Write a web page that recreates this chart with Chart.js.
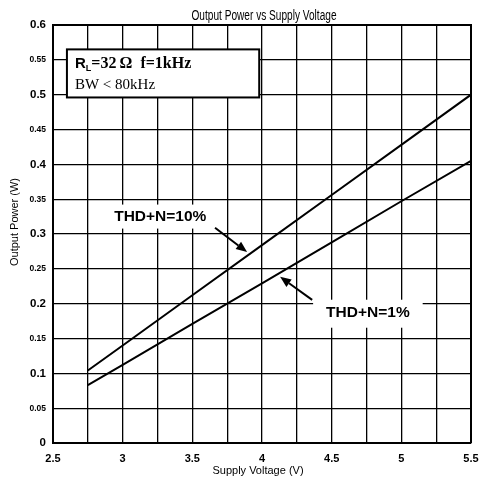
<!DOCTYPE html>
<html>
<head>
<meta charset="utf-8">
<script src="https://cdn.jsdelivr.net/npm/chart.js@4.4.0/dist/chart.umd.min.js"></script>
<style>
  html, body { margin: 0; padding: 0; background: #fff; }
  #wrap { width: 479px; height: 481px; position: relative; }
</style>
</head>
<body>
<div id="wrap"><canvas id="c" width="479" height="481"></canvas></div>
<script>
// ---- data ----
const voltages = [2.75, 3.0, 3.5, 4.0, 4.5, 5.0, 5.5];
const thd10 = [0.104, 0.140, 0.212, 0.284, 0.356, 0.428, 0.500];
const thd1  = [0.083, 0.112, 0.171, 0.229, 0.288, 0.347, 0.405];
const seriesNames = ['THD+N=10%', 'THD+N=1%'];
const xTickLabels = ['2.5', '3', '3.5', '4', '4.5', '5', '5.5'];
const yTickLabels = ['0', '0.05', '0.1', '0.15', '0.2', '0.25', '0.3', '0.35', '0.4', '0.45', '0.5', '0.55', '0.6'];
const titleText = 'Output Power vs Supply Voltage';
const xTitle = 'Supply Voltage (V)';
const yTitle = 'Output Power (W)';
const conditions = ['R', 'L', '=32\u2009\u03A9  f=1kHz', 'BW < 80kHz'];

const SANS = "'Liberation Sans', Arial, Helvetica, sans-serif";
const NARROW = "'Liberation Sans Narrow', 'Arial Narrow', 'Liberation Sans', sans-serif";
const SERIF = "'Liberation Serif', 'Times New Roman', serif";

function arrow(ctx, x1, y1, x2, y2) {
  ctx.save();
  ctx.strokeStyle = '#000'; ctx.fillStyle = '#000'; ctx.lineWidth = 2;
  const ang = Math.atan2(y2 - y1, x2 - x1);
  const hl = 11, hw = 4.5;
  const bx = x2 - hl * Math.cos(ang), by = y2 - hl * Math.sin(ang);
  ctx.beginPath(); ctx.moveTo(x1, y1); ctx.lineTo(bx, by); ctx.stroke();
  ctx.beginPath();
  ctx.moveTo(x2, y2);
  ctx.lineTo(bx + hw * Math.sin(ang), by - hw * Math.cos(ang));
  ctx.lineTo(bx - hw * Math.sin(ang), by + hw * Math.cos(ang));
  ctx.closePath(); ctx.fill();
  ctx.restore();
}

const deco = {
  id: 'deco',
  afterDraw(chart) {
    const ctx = chart.ctx;
    const xs = chart.scales.x, ys = chart.scales.y;
    ctx.save();
    // title (condensed)
    ctx.font = '14px ' + NARROW;
    ctx.fillStyle = '#000';
    ctx.textBaseline = 'middle';
    const tw = ctx.measureText(titleText).width;
    const target = 145;
    ctx.save();
    ctx.translate(264, 16);
    ctx.scale(target / tw, 1);
    ctx.textAlign = 'center';
    ctx.fillText(titleText, 0, 0);
    ctx.restore();

    // axis titles
    ctx.font = '11px ' + SANS;
    ctx.textAlign = 'center';
    ctx.fillText(xTitle, 258, 471);
    ctx.save();
    ctx.translate(15, 222);
    ctx.rotate(-Math.PI / 2);
    ctx.fillText(yTitle, 0, 0);
    ctx.restore();

    // condition box
    const bx1 = xs.getPixelForValue(2.6), bx2 = xs.getPixelForValue(3.98);
    const by1 = ys.getPixelForValue(0.565), by2 = ys.getPixelForValue(0.496);
    ctx.fillStyle = '#fff';
    ctx.fillRect(bx1, by1, bx2 - bx1, by2 - by1);
    ctx.strokeStyle = '#000'; ctx.lineWidth = 2;
    ctx.strokeRect(bx1, by1, bx2 - bx1, by2 - by1);
    ctx.fillStyle = '#000';
    ctx.textAlign = 'left';
    ctx.textBaseline = 'alphabetic';
    let tx = bx1 + 8;
    ctx.font = 'bold 15px ' + SANS;
    ctx.fillText(conditions[0], tx, by1 + 19);
    tx += ctx.measureText(conditions[0]).width;
    ctx.font = 'bold 9px ' + SANS;
    ctx.fillText(conditions[1], tx, by1 + 22);
    tx += ctx.measureText(conditions[1]).width;
    ctx.font = 'bold 16px ' + SERIF;
    ctx.fillText(conditions[2], tx, by1 + 19);
    ctx.font = '15px ' + SERIF;
    ctx.fillText(conditions[3], bx1 + 8, by1 + 40);

    // series labels with white background
    ctx.font = 'bold 15.5px ' + SANS;
    ctx.textBaseline = 'middle';
    ctx.textAlign = 'center';
    const l1x = xs.getPixelForValue(3.27), l1y = ys.getPixelForValue(0.325);
    const w1 = ctx.measureText(seriesNames[0]).width;
    ctx.fillStyle = '#fff';
    ctx.fillRect(l1x - w1 / 2 - 10, l1y - 12, w1 + 20, 24);
    ctx.fillStyle = '#000';
    ctx.fillText(seriesNames[0], l1x, l1y);

    const l2x = xs.getPixelForValue(4.76), l2y = ys.getPixelForValue(0.187);
    const w2 = ctx.measureText(seriesNames[1]).width;
    ctx.fillStyle = '#fff';
    ctx.fillRect(l2x - w2 / 2 - 13, l2y - 13, w2 + 26, 28);
    ctx.fillStyle = '#000';
    ctx.fillText(seriesNames[1], l2x, l2y);

    // arrows
    arrow(ctx, xs.getPixelForValue(3.663), ys.getPixelForValue(0.309),
               xs.getPixelForValue(3.893), ys.getPixelForValue(0.274));
    arrow(ctx, xs.getPixelForValue(4.36), ys.getPixelForValue(0.2055),
               xs.getPixelForValue(4.13), ys.getPixelForValue(0.2385));
    ctx.restore();
  }
};

new Chart(document.getElementById('c'), {
  type: 'line',
  data: {
    datasets: [
      { label: seriesNames[0], data: voltages.map((v, i) => ({ x: v, y: thd10[i] })),
        borderColor: '#000', borderWidth: 2, pointRadius: 0, tension: 0 },
      { label: seriesNames[1], data: voltages.map((v, i) => ({ x: v, y: thd1[i] })),
        borderColor: '#000', borderWidth: 2, pointRadius: 0, tension: 0 }
    ]
  },
  options: {
    responsive: false,
    animation: false,
    events: [],
    layout: { padding: { left: 0, right: 8, top: 25, bottom: 0 } },
    plugins: { legend: { display: false }, title: { display: false }, tooltip: { enabled: false } },
    scales: {
      x: {
        type: 'linear', min: 2.5, max: 5.5,
        afterFit(s) { s.height = 38; s.paddingLeft = 0; s.paddingRight = 0; },
        afterBuildTicks(s) {
          s.ticks = [];
          for (let i = 0; i <= 12; i++) s.ticks.push({ value: 2.5 + i * 0.25 });
        },
        grid: { color: '#000', lineWidth: 1.3, drawTicks: false },
        border: { color: '#000', width: 2 },
        ticks: {
          padding: 9, color: '#000', autoSkip: false, maxRotation: 0,
          font: { family: SANS, size: 11, weight: 'bold' },
          callback(v, i) { return i % 2 === 0 ? xTickLabels[i / 2] : ''; }
        }
      },
      y: {
        type: 'linear', min: 0, max: 0.6,
        afterFit(s) { s.width = 53; s.paddingTop = 0; s.paddingBottom = 0; },
        afterBuildTicks(s) {
          s.ticks = [];
          for (let i = 0; i <= 12; i++) s.ticks.push({ value: i * 0.05 });
        },
        grid: { color: '#000', lineWidth: 1.3, drawTicks: false },
        border: { color: '#000', width: 2 },
        ticks: {
          padding: 7, color: '#000', autoSkip: false,
          font(ctx) {
            const i = ctx.index;
            return (i % 2 === 0)
              ? { family: SANS, size: 11.5, weight: 'bold' }
              : { family: SANS, size: 8.5, weight: 'bold' };
          },
          callback(v, i) { return yTickLabels[i]; }
        }
      }
    }
  },
  plugins: [deco, {
    id: 'rightTopBorder',
    afterDatasetsDraw(chart) {
      const { ctx, chartArea: ca } = chart;
      ctx.save();
      ctx.strokeStyle = '#000'; ctx.lineWidth = 2;
      ctx.beginPath();
      ctx.moveTo(ca.left, ca.top); ctx.lineTo(ca.right, ca.top); ctx.lineTo(ca.right, ca.bottom);
      ctx.stroke();
      ctx.restore();
    }
  }]
});
</script>
</body>
</html>
